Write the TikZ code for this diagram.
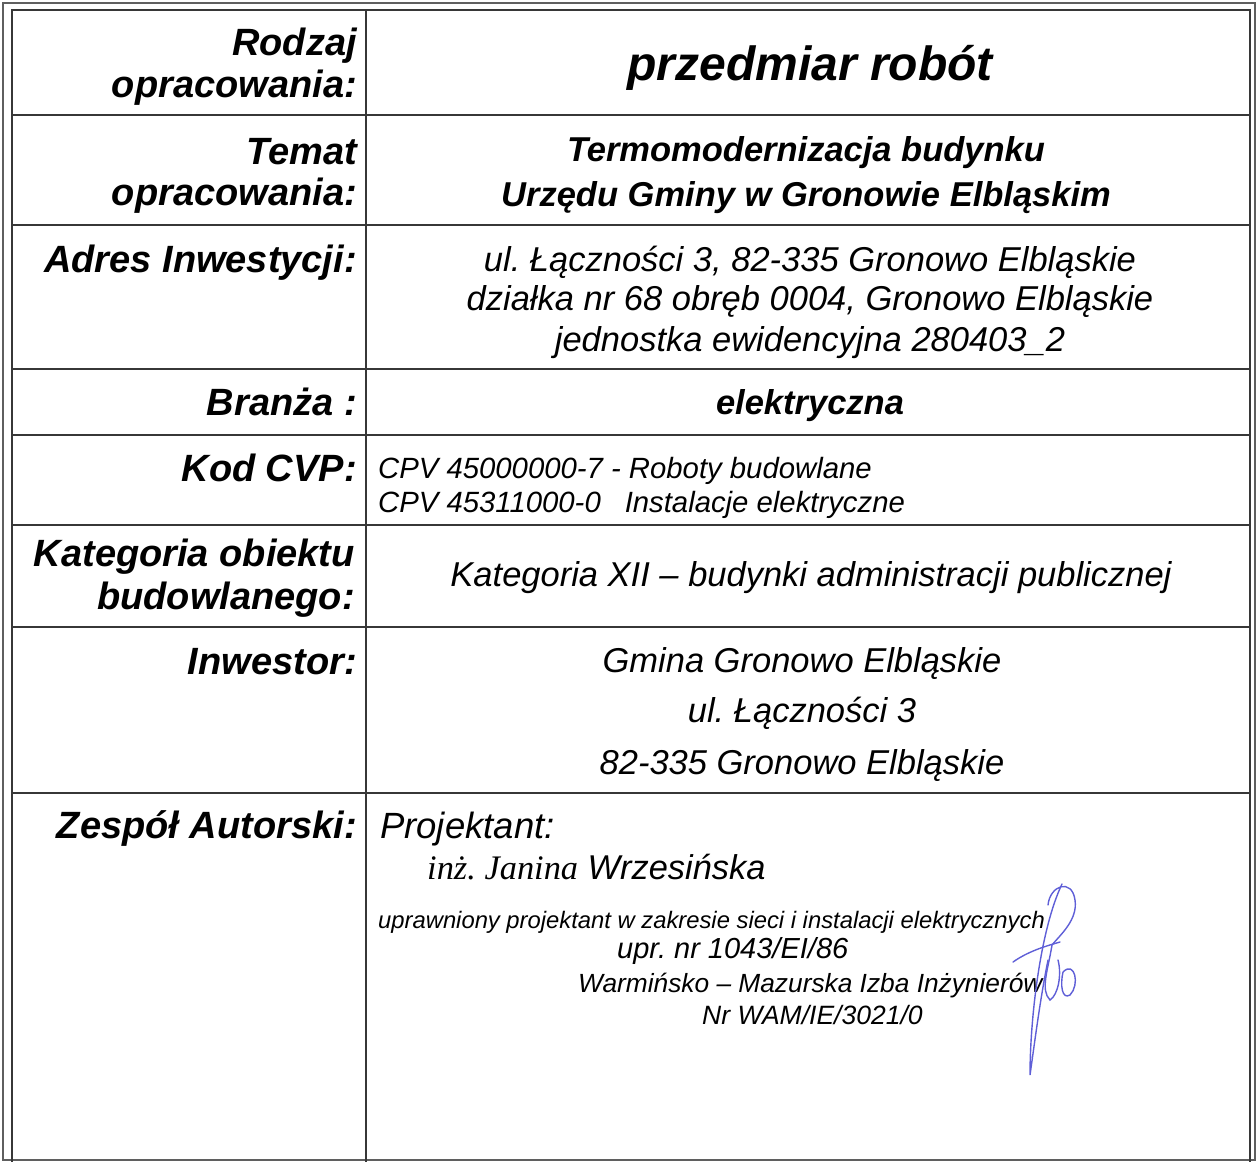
\documentclass[tikz,border=0pt]{standalone}
\usepackage{fontspec}
\setmainfont{Liberation Sans}
\newfontfamily\timesit{Liberation Serif}
\usepackage{xcolor}
\usepackage{tikz}
\usetikzlibrary{positioning}
\frenchspacing
\definecolor{inkblue}{RGB}{95,95,215}
\definecolor{rule}{RGB}{55,55,55}
\tikzstyle{lbl} = [anchor=base east, inner sep=0pt, font=\fontsize{38}{44}\selectfont\bfseries\itshape]
\tikzstyle{val} = [anchor=base, inner sep=0pt, font=\fontsize{34.5}{40}\selectfont\itshape]
\tikzstyle{valb} = [anchor=base, inner sep=0pt, font=\fontsize{34.5}{40}\selectfont\bfseries\itshape]
\tikzstyle{cpv} = [anchor=base west, inner sep=0pt, font=\fontsize{29.3}{34}\selectfont\itshape]
\tikzstyle{small} = [anchor=base west, inner sep=0pt, font=\fontsize{23.8}{28}\selectfont\itshape]
\tikzstyle{gridline} = [draw=rule, line width=1.8pt]
\tikzstyle{frame} = [draw=rule!80, line width=1.4pt]
\tikzstyle{sign} = [draw=inkblue, line width=1.4pt, line cap=round]

\begin{document}
\begin{tikzpicture}[x=1pt,y=-1pt]
\useasboundingbox (0,0) rectangle (1256,1162);
% frames and table lines
\draw [frame] (3,1160) -- (3,3) -- (1255,3) -- (1255,1160) -- cycle;
\draw [gridline] (12,1165) -- (12,10) -- (1250,10) -- (1250,1165);
\draw [gridline] (366,10) -- (366,1165);
\foreach \y in {115,225,369,435,525,627,793}
  \draw [gridline] (12,\y) -- (1250,\y);

% row 1
\node (rodz1) [lbl] at (357,55) {Rodzaj};
\node (rodz2) [lbl] at (357,97) {opracowania:};
\node (rodzv) [valb, font=\fontsize{48}{54}\selectfont\bfseries\itshape] at (810,80) {przedmiar robót};

% row 2
\node (tem1) [lbl] at (357,164) {Temat};
\node (tem2) [lbl] at (357,205) {opracowania:};
\node (temv1) [valb] at (806,161) {Termomodernizacja budynku};
\node (temv2) [valb, below=45pt of temv1.base, anchor=base] {Urzędu Gminy w Gronowie Elbląskim};

% row 3
\node (adr) [lbl] at (357,272) {Adres Inwestycji:};
\node (adr1) [val] at (810,271) {ul. Łączności 3, 82-335 Gronowo Elbląskie};
\node (adr2) [val, below=39pt of adr1.base, anchor=base] {działka nr 68 obręb 0004, Gronowo Elbląskie};
\node (adr3) [val, below=41pt of adr2.base, anchor=base] {jednostka ewidencyjna 280403\_2};

% row 4
\node (bra) [lbl] at (357,415) {Branża :};
\node (brav) [valb] at (810,414) {elektryczna};

% row 5
\node (kod) [lbl] at (357,481) {Kod CVP:};
\node (cpv1) [cpv] at (378,478) {CPV 45000000-7 - Roboty budowlane};
\node (cpv2) [cpv, below=34pt of cpv1.base west, anchor=base west] {CPV 45311000-0\hspace{24pt}Instalacje elektryczne};

% row 6
\node (kat1) [lbl] at (355,566) {Kategoria obiektu};
\node (kat2) [lbl] at (355,609) {budowlanego:};
\node (katv) [val] at (811,586) {Kategoria XII -- budynki administracji publicznej};

% row 7
\node (inw) [lbl] at (357,674) {Inwestor:};
\node (inw1) [val] at (802,672) {Gmina Gronowo Elbląskie};
\node (inw2) [val, below=50pt of inw1.base, anchor=base] {ul. Łączności 3};
\node (inw3) [val, below=52pt of inw2.base, anchor=base] {82-335 Gronowo Elbląskie};

% row 8
\node (zes) [lbl] at (357,838) {Zespół Autorski:};
\node (proj) [cpv, font=\fontsize{36.5}{42}\selectfont\itshape] at (380,838) {Projektant:};
\node (nazw) [cpv, font=\fontsize{34.4}{40}\selectfont\itshape] at (427,879) {{\timesit\itshape inż. Janina} Wrzesińska};
\node (upr1) [small] at (378,928) {uprawniony projektant w zakresie sieci i instalacji elektrycznych};
\node (upr2) [cpv, font=\fontsize{29}{34}\selectfont\itshape] at (617,958) {upr. nr 1043/EI/86};
\node (izba) [cpv, font=\fontsize{26.3}{30}\selectfont\itshape] at (578,992) {Warmińsko -- Mazurska Izba Inżynierów};
\node (nrwam) [cpv, font=\fontsize{26.5}{30}\selectfont\itshape] at (702,1024) {Nr WAM/IE/3021/0};

% signature
\draw [sign] (1062,884) .. controls (1040,930) and (1030,1020) .. (1030,1075)
  .. controls (1035,1040) and (1040,1000) .. (1048,960);
\draw [sign] (1048,905) .. controls (1050,885) and (1072,878) .. (1075,900)
  .. controls (1078,920) and (1060,935) .. (1052,945);
\draw [sign] (1013,962) .. controls (1030,950) and (1050,945) .. (1060,942);
\draw [sign] (1052,945) .. controls (1048,970) and (1040,990) .. (1050,1000)
  .. controls (1058,995) and (1062,975) .. (1058,960);
\draw [sign] (1063,972) .. controls (1075,960) and (1080,985) .. (1070,995)
  .. controls (1062,1000) and (1060,985) .. (1063,972);
\end{tikzpicture}
\end{document}
